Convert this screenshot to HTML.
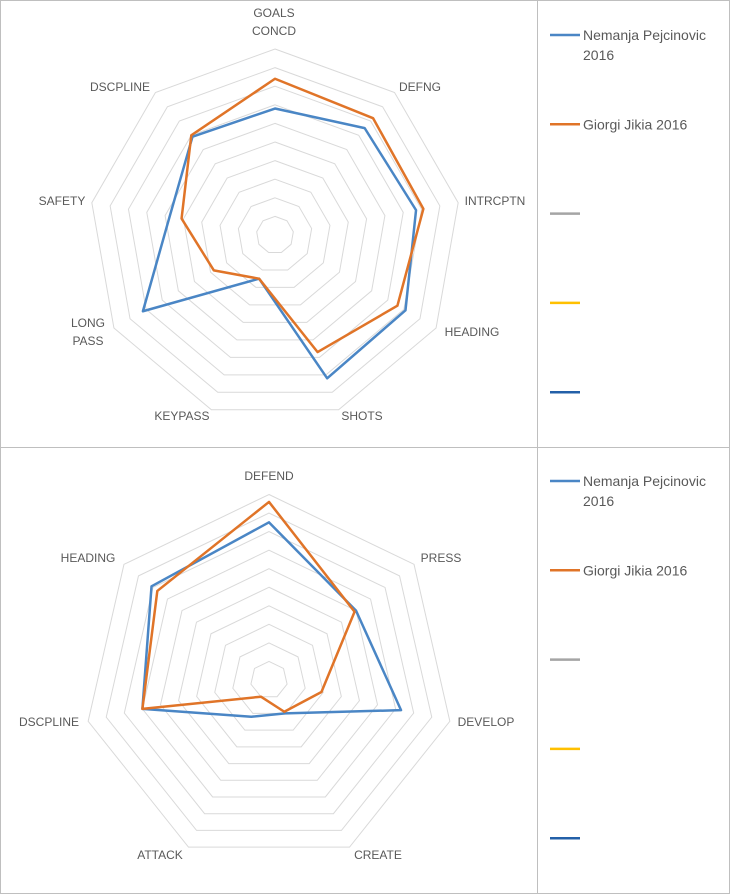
<!DOCTYPE html>
<html><head><meta charset="utf-8"><style>
body{margin:0;background:#fff;}
svg{display:block;font-family:"Liberation Sans",sans-serif;}
</style></head><body>
<svg id="s" width="730" height="894">
<rect x="0.5" y="0.5" width="729" height="893" fill="#fff" stroke="#bfbfbf"/>
<line x1="537.5" y1="0" x2="537.5" y2="894" stroke="#bfbfbf"/>
<line x1="0" y1="447.5" x2="730" y2="447.5" stroke="#bfbfbf"/>
</svg>
<script>
const topCats=["GOALS|CONCD","DEFNG","INTRCPTN","HEADING","SHOTS","KEYPASS","LONG|PASS","SAFETY","DSCPLINE"];
const topBlue=[6.8,7.5,7.7,8.1,8.2,2.5,8.2,5.75,6.9];
const topOrange=[8.4,8.2,8.1,7.6,6.7,2.5,3.8,5.1,7.0];
const botCats=["DEFEND","PRESS","DEVELOP","CREATE","ATTACK","DSCPLINE","HEADING"];
const botBlue=[8.5,6.0,7.3,2.0,2.2,7.0,8.1];
const botOrange=[9.6,5.9,2.9,1.9,1.0,7.0,7.7];
const seriesNames=["Nemanja Pejcinovic|2016","Giorgi Jikia 2016","","",""];
const seriesColors=["#4a86c5","#e07428","#a5a5a5","#ffc000","#2360a8"];
const topLabelPos=[[274,22],[420,87],[495,201],[472,332],[362,416],[182,416],[88,332],[62,201],[120,87]];
const botLabelPos=[[269,476],[441,558],[486,722],[378,855],[160,855],[49,722],[88,558]];
const NS="http://www.w3.org/2000/svg";
const svg=document.getElementById("s");
function mk(tag,attrs,parent){const e=document.createElementNS(NS,tag);for(const k in attrs)e.setAttribute(k,attrs[k]);(parent||svg).appendChild(e);return e;}
function radar(cats,series,cx,cy,R,maxV,labelPos,name){
  const g=mk("g",{});
  
  
  const n=cats.length;
  const pt=(i,v)=>{const a=2*Math.PI*i/n;const r=R*v/maxV;return [cx+r*Math.sin(a),cy-r*Math.cos(a)];};
  for(let k=1;k<=maxV;k++){
    const p=cats.map((_,i)=>pt(i,k).join(",")).join(" ");
    const ring=mk("polygon",{points:p,fill:"none",stroke:"#d9d9d9","stroke-width":1},g);
    
    
  }
  cats.forEach((c,i)=>{
    const lx=labelPos[i][0],ly=labelPos[i][1];
    const lines=c.split("|");
    const t=mk("text",{x:lx,y:ly-(lines.length-1)*9+4,"text-anchor":"middle","font-size":12,fill:"#595959"},g);
    
    
    lines.forEach((l,j)=>{const ts=mk("tspan",{x:lx,dy:j?18:0},t);ts.textContent=l;});
  });
  series.forEach((s,si)=>{
    const p=s.map((v,i)=>pt(i,v).join(",")).join(" ");
    const poly=mk("polygon",{points:p,fill:"none",stroke:seriesColors[si],"stroke-width":2.5,"stroke-linejoin":"round"},g);
    
    
  });
}
radar(topCats,[topBlue,topOrange],275,235,186,10,topLabelPos,"top-radar");
radar(botCats,[botBlue,botOrange],269,680,185.5,10,botLabelPos,"bottom-radar");
function legend(y0,name){
  seriesNames.forEach((nm,i)=>{
    const y=y0+i*89.3;
    const g=mk("g",{});
    
    
    mk("line",{x1:550,y1:y,x2:580,y2:y,stroke:seriesColors[i],"stroke-width":2.5},g);
    const lines=nm.split("|");
    const t=mk("text",{x:583,y:y+5,"font-size":14,fill:"#595959"},g);
    lines.forEach((l,j)=>{const ts=mk("tspan",{x:583,dy:j?20:0},t);ts.textContent=l;});
  });
}
legend(35,"top-legend");
legend(481,"bottom-legend");
</script>
</body></html>
